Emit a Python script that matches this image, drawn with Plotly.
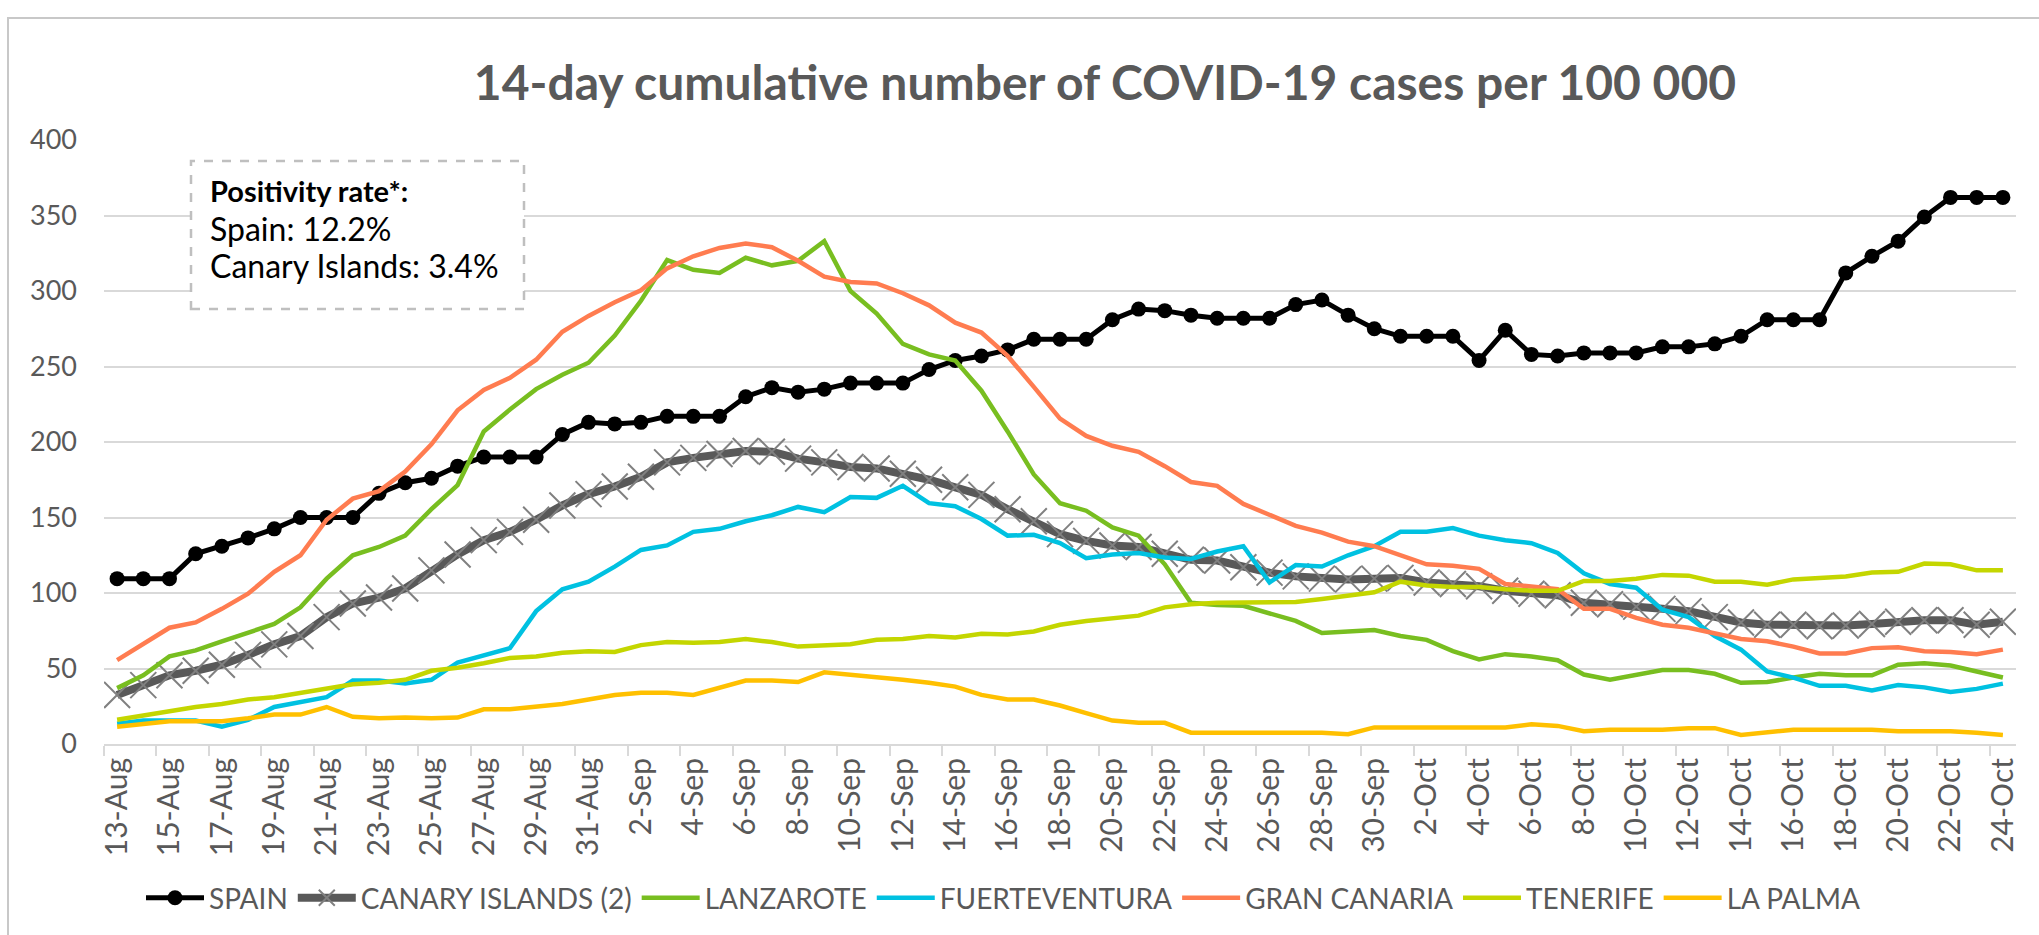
import plotly.graph_objects as go

dates = ([f"{d}-Aug" for d in range(13, 32)] + [f"{d}-Sep" for d in range(1, 31)]
         + [f"{d}-Oct" for d in range(1, 25)])

spain = [109.5, 109.5, 109.5, 126, 131, 136.5, 142.5, 150, 150, 150, 166, 173,
         176, 184, 190, 190, 190, 205, 213, 212, 213, 217, 217, 217, 230, 236, 233,
         235, 239, 239, 239, 248, 254, 257, 261, 268, 268, 268, 281, 288, 287, 284, 282,
         282, 282, 291, 294, 284, 275, 270, 270, 270, 254, 274, 258, 257, 259, 259,
         259, 263, 263, 265, 270, 281, 281, 281, 312, 323, 333, 349, 362, 362, 362]
canary = [32.5, 39, 45.5, 48.5, 52.5, 59, 66, 71.5, 84, 93, 97, 103,
          115, 125.5, 135, 140.5, 148.5, 158, 165.5, 170.5, 177, 186.5, 189.5, 192, 194, 193.5, 189,
          186.5, 183.5, 182.5, 179, 175, 170, 165, 155.5, 147.5, 139, 134.5, 131.5, 130.5, 126, 122, 121.5,
          117, 113.5, 111, 109.5, 109, 109.5, 110, 107, 106, 104.5, 101.5, 99.5, 98.5, 93.5, 92.5,
          91, 89.5, 88, 84, 80.5, 79, 79, 78, 78.5, 79.5, 81, 82, 82, 79, 81]
lanzarote = [37, 45.5, 58, 62, 68, 73.5, 79.5, 90.5, 109.5, 125, 130.5, 138,
             155.5, 171.5, 207, 221.5, 235, 244.5, 252.5, 270.5, 293.5, 320.5, 314, 312, 322, 317, 320,
             333, 300, 285, 265, 258, 254, 234, 207, 178.5, 159.5, 154.5, 143.5, 138, 119, 93.5, 92,
             91.5, 86.5, 81.5, 73.5, 74.5, 75.5, 71.5, 69, 61.5, 56, 59.5, 58, 55.5, 46, 42.5,
             45.5, 49, 49, 46.5, 40.5, 41, 44, 46.5, 45.5, 45.5, 52.5, 53.5, 52, 48, 44]
fuerteventura = [13.5, 15.5, 15.5, 15.5, 11.5, 16, 24.5, 27.5, 31, 42, 42, 40,
                 42.5, 54, 59, 63.5, 88, 102.5, 107.5, 117.5, 128.5, 131.5, 140.5, 142.5, 147.5, 151.5, 157,
                 153.5, 163.5, 163, 171, 159.5, 157.5, 149, 138, 138.5, 133, 123, 125.5, 126.5, 123.5, 122.5, 127.5,
                 131, 107, 118.5, 117.5, 125, 131, 140.5, 140.5, 143, 138, 135, 133, 126.5, 113, 106,
                 103.5, 89, 84, 71.5, 62.5, 48, 44, 38.5, 38.5, 35.5, 39, 37.5, 34.5, 36.5, 40]
gran_canaria = [55.5, 66, 77, 80.5, 89.5, 99.5, 114, 125, 148.5, 162.5, 167.5, 180.5,
                198.5, 221, 234.5, 242.5, 254.5, 273, 283.5, 292.5, 300.5, 315, 323, 328.5, 331.5, 329, 320,
                309.5, 306, 305, 298.5, 290.5, 279, 272.5, 257, 236.5, 215.5, 204, 197.5, 193.5, 184, 173.5, 171,
                159, 152, 144.5, 140, 134, 131, 125, 119, 118, 116, 106, 104, 102.5, 89.5, 89.5,
                83.5, 79, 77, 73.5, 69.5, 68, 64.5, 60, 60, 63.5, 64, 61.5, 61, 59.5, 62.5]
tenerife = [16, 19, 22, 24.5, 26.5, 29.5, 31, 34, 37, 39.5, 40.5, 42.5,
            48.5, 50.5, 53.5, 57, 58, 60.5, 61.5, 61, 65.5, 67.5, 67, 67.5, 69.5, 67.5, 64.5,
            65, 66, 69, 69.5, 71.5, 70.5, 73, 72.5, 74.5, 79, 81.5, 83.5, 85, 90.5, 92.5, 93.5,
            93.5, 94, 94, 96, 98.5, 100.5, 107.5, 105, 104, 104, 102.5, 101.5, 101.5, 108, 108,
            109.5, 112, 111.5, 107.5, 107.5, 105.5, 109, 110, 111, 113.5, 114, 119.5, 119, 115, 115]
la_palma = [11.5, 13.5, 15, 15, 15, 17, 19.5, 19.5, 24.5, 18, 17, 17.5,
            17, 17.5, 23, 23, 24.5, 26.5, 29.5, 32.5, 34, 34, 32.5, 37.5, 42, 42, 41,
            47.5, 46, 44, 42.5, 40.5, 38, 32.5, 29.5, 29.5, 25.5, 20.5, 15.5, 14, 14, 7.5, 7.5,
            7.5, 7.5, 7.5, 7.5, 6.5, 11, 11, 11, 11, 11, 11, 13, 12, 8.5, 9.5,
            9.5, 9.5, 10.5, 10.5, 6, 7.5, 9.5, 9.5, 9.5, 9.5, 8.5, 8.5, 8.5, 7.5, 6]

y_ticks = [0, 50, 100, 150, 200, 250, 300, 350, 400]

FONT = "Lato"
TXT = "#595959"
GRID = "#D9D9D9"

# plot area in pixels
W, H = 2039, 935
L, R, T, B = 104, 2016, 140, 744
PW, PH = R - L, B - T


def px(xp):
    return (xp - L) / PW


def py(yp):
    return (B - yp) / PH


fig = go.Figure()

fig.add_trace(go.Scatter(x=dates, y=spain, name="SPAIN", mode="lines+markers",
                         line=dict(color="#000000", width=5),
                         marker=dict(symbol="circle", size=15, color="#000000")))
fig.add_trace(go.Scatter(x=dates, y=canary, name="CANARY ISLANDS (2)", mode="lines+markers",
                         line=dict(color="#595959", width=8),
                         marker=dict(symbol="x-thin", size=26, color="#808080",
                                     line=dict(color="#808080", width=2))))
series = [("LANZAROTE", lanzarote, "#78BE20"),
          ("FUERTEVENTURA", fuerteventura, "#00C1E1"),
          ("GRAN CANARIA", gran_canaria, "#FF7C50"),
          ("TENERIFE", tenerife, "#C4D600"),
          ("LA PALMA", la_palma, "#FFC000")]
for name, vals, col in series:
    fig.add_trace(go.Scatter(x=dates, y=vals, name=name, mode="lines",
                             line=dict(color=col, width=4.5)))

fig.update_layout(
    width=W, height=H,
    margin=dict(l=L, r=W - R, t=T, b=H - B, autoexpand=False),
    paper_bgcolor="white", plot_bgcolor="white",
    font=dict(family=FONT, color=TXT),
    title=dict(text="<b>14-day cumulative number of COVID-19 cases per 100 000</b>",
               font=dict(family=FONT, size=48, color=TXT),
               x=px(1105), xref="paper", xanchor="center",
               y=1 - 83 / H, yref="container", yanchor="middle"),
    showlegend=True,
    legend=dict(orientation="h", x=px(1003), xanchor="center", y=py(898), yanchor="middle",
                font=dict(family=FONT, size=28, color=TXT), itemwidth=58,
                bgcolor="rgba(0,0,0,0)", traceorder="normal"),
    xaxis=dict(type="category", range=[-0.5, len(dates) - 0.5],
               tickmode="linear", tick0=0, dtick=2, tickson="boundaries",
               ticks="outside", ticklen=10, tickwidth=2, tickcolor=GRID,
               tickangle=-90, tickfont=dict(family=FONT, size=30, color=TXT),
               showgrid=False, showline=True, linecolor=GRID, linewidth=2,
               zeroline=False),
    yaxis=dict(range=[0, 400], tickvals=y_ticks, ticks="", ticklabelstandoff=26,
               tickfont=dict(family=FONT, size=27, color=TXT),
               showgrid=True, gridcolor=GRID, gridwidth=2, zeroline=False,
               showline=False),
)

# outer chart border
fig.add_shape(type="rect", xref="paper", yref="paper",
              x0=px(8), x1=px(2050), y0=py(950), y1=py(18),
              line=dict(color="#C8C8C8", width=2), fillcolor="rgba(0,0,0,0)", layer="below")

# positivity box
fig.add_shape(type="rect", xref="paper", yref="paper",
              x0=px(191), x1=px(524), y0=py(309), y1=py(161),
              line=dict(color="#BFBFBF", width=2.5, dash="dash"), fillcolor="white", layer="above")
box_lines = [("<b>Positivity rate*:</b>", 190, 29), ("Spain: 12.2%", 228, 32),
             ("Canary Islands: 3.4%", 265, 32)]
for txt, ypix, fs in box_lines:
    fig.add_annotation(text=txt, xref="paper", yref="paper", x=px(208), y=py(ypix),
                       xanchor="left", yanchor="middle", showarrow=False,
                       font=dict(family=FONT, size=fs, color="#000000"))

fig.write_html("out.html", config={"displayModeBar": False},
               post_script="document.body.style.margin='0px';document.body.style.overflow='hidden';")
